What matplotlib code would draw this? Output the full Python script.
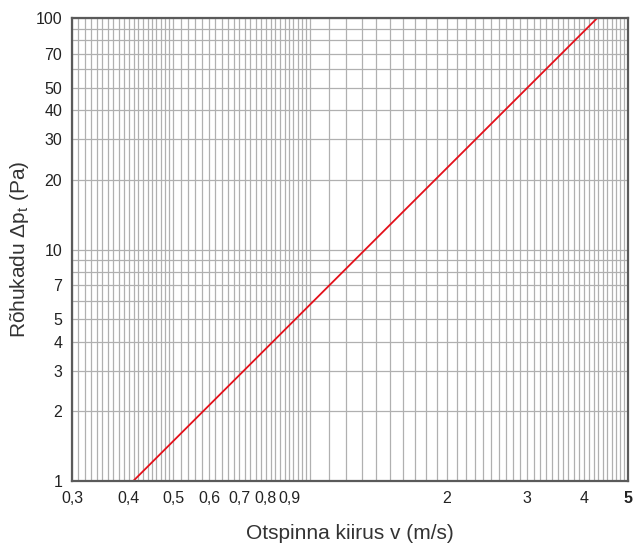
import numpy as np
import matplotlib
matplotlib.use("Agg")
import matplotlib.pyplot as plt

plt.rcParams['font.family'] = ['Liberation Sans', 'DejaVu Sans']
plt.rcParams['mathtext.default'] = 'regular'

# Data: line endpoints
velocity = [0.409, 4.28]      # m/s
pressure = [1.0, 100.0]       # Pa

x_tick_vals = [0.3, 0.4, 0.5, 0.6, 0.7, 0.8, 0.9, 2, 3, 4, 5]
x_tick_labels = ['0,3', '0,4', '0,5', '0,6', '0,7', '0,8', '0,9', '2', '3', '4', '5']
y_tick_vals = [1, 2, 3, 4, 5, 7, 10, 20, 30, 40, 50, 70, 100]
y_tick_labels = ['1', '2', '3', '4', '5', '7', '10', '20', '30', '40', '50', '70', '100']

fig = plt.figure(figsize=(6.33, 5.44), dpi=100)
ax = fig.add_axes([72/633, 63/544, (628-72)/633, (481-18)/544])
ax.set_xscale('log')
ax.set_yscale('log')
ax.set_xlim(0.3, 5)
ax.set_ylim(1, 100)

# grid lines
xgrid = np.concatenate([np.arange(30, 50) / 100.0,
                        np.arange(50, 101, 2) / 100.0,
                        np.arange(11, 51) / 10.0])
ygrid = np.concatenate([np.arange(1, 11), np.arange(20, 101, 10)]).astype(float)
for xv in xgrid:
    ax.axvline(xv, color='#b0b0b0', lw=0.9, zorder=1)
for yv in ygrid:
    ax.axhline(yv, color='#b0b0b0', lw=0.9, zorder=1)

ax.plot(velocity, pressure, color='#e3101a', lw=1.3, zorder=3, solid_capstyle='butt')

ax.xaxis.set_minor_locator(matplotlib.ticker.NullLocator())
ax.yaxis.set_minor_locator(matplotlib.ticker.NullLocator())
ax.set_xticks(x_tick_vals)
ax.set_xticklabels(x_tick_labels)
ax.set_yticks(y_tick_vals)
ax.set_yticklabels(y_tick_labels)
ax.tick_params(axis='both', length=0, labelsize=11.5, colors='#222222')
ax.tick_params(axis='x', pad=7)
ax.tick_params(axis='y', pad=7)
ax.get_xticklabels()[-1].set_fontweight('bold')

for s in ax.spines.values():
    s.set_color('#5a5a5a')
    s.set_linewidth(1.6)
    s.set_zorder(4)

ax.set_xlabel('Otspinna kiirus v (m/s)', fontsize=15, color='#333333', labelpad=13)
ax.set_ylabel('Rõhukadu Δp$_{t}$ (Pa)', fontsize=15, color='#333333', labelpad=3)

fig.savefig('out.png', dpi=100)
